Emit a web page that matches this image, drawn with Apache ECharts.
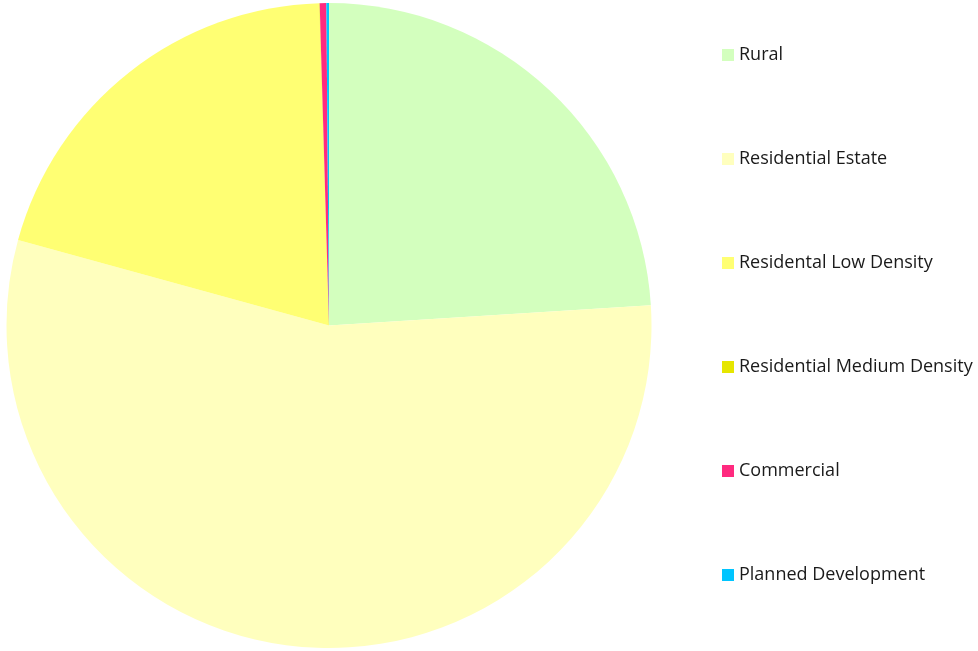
<!DOCTYPE html>
<html>
<head>
<meta charset="utf-8">
<script src="https://cdn.jsdelivr.net/npm/echarts@6/dist/echarts.min.js"></script>
<style>
  html, body { margin: 0; padding: 0; background: #fff; }
  #chart { width: 978px; height: 651px; }
</style>
</head>
<body>
<div id="chart"></div>
<script>
// land use categories and share (%)
var categories = ['Rural', 'Residential Estate', 'Residental Low Density', 'Residential Medium Density', 'Commercial', 'Planned Development'];
var shares = [24.0, 55.28, 20.25, 0.02, 0.33, 0.13];
var colors = ['#d3ffbe', '#ffffbe', '#ffff73', '#e6e600', '#ff2a7f', '#00c5ff'];

var pieData = categories.map(function (name, i) {
  return { name: name, value: shares[i], itemStyle: { color: colors[i] } };
});

var myChart = echarts.init(document.getElementById('chart'));
myChart.setOption({
  animation: false,
  legend: {
    orient: 'vertical',
    left: 717,
    top: 40,
    itemWidth: 12,
    itemHeight: 12,
    itemGap: 84,
    icon: 'rect',
    textStyle: { fontFamily: 'Open Sans', fontSize: 18, color: '#1a1a1a', lineHeight: 20 },
    data: categories
  },
  series: [{
    type: 'pie',
    center: [329, 325.5],
    radius: 322.5,
    startAngle: 90,
    clockwise: true,
    label: { show: false },
    labelLine: { show: false },
    emphasis: { disabled: true },
    itemStyle: { borderWidth: 0 },
    data: pieData
  }]
});
</script>
</body>
</html>
